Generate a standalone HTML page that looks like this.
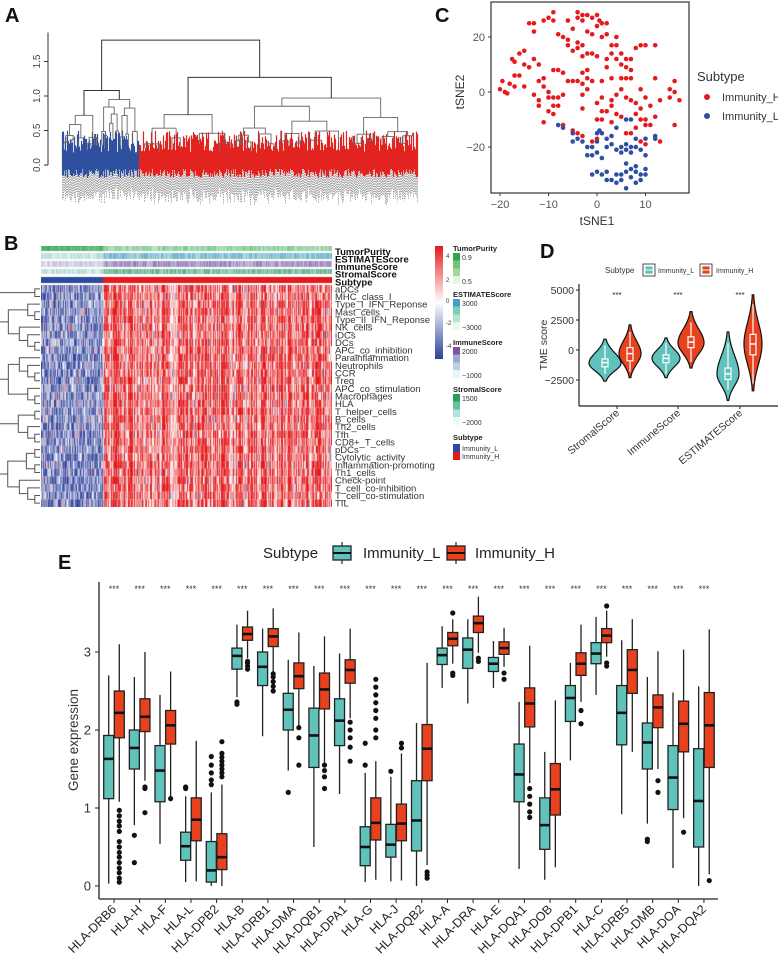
<!DOCTYPE html>
<html><head><meta charset="utf-8">
<style>
html,body{margin:0;padding:0;background:#fff;}
#wrap{position:relative;width:778px;height:966px;overflow:hidden;background:#fff;font-family:"Liberation Sans",sans-serif;}
svg{position:absolute;left:0;top:0;}
canvas{position:absolute;}
</style></head>
<body>
<div id="wrap">
<canvas id="hm" width="291" height="261" style="left:41px;top:246px"></canvas>
<svg id="fig" width="778" height="966" viewBox="0 0 778 966"></svg>
</div>
<script>
// ---------- Panel E data ----------
const genes = ["HLA-DRB6","HLA-H","HLA-F","HLA-L","HLA-DPB2","HLA-B","HLA-DRB1","HLA-DMA","HLA-DQB1","HLA-DPA1","HLA-G","HLA-J","HLA-DQB2","HLA-A","HLA-DRA","HLA-E","HLA-DQA1","HLA-DOB","HLA-DPB1","HLA-C","HLA-DRB5","HLA-DMB","HLA-DOA","HLA-DQA2"];
const lLo  = [0.03,0.78,0.54,0.05,0,2.42,1.92,1.48,0.5,1.18,0.05,0.06,0,2.54,2.34,2.54,0.22,0.08,1.61,2.45,0.92,0.8,0.23,0];
const lQ1  = [1.12,1.5,1.08,0.33,0.05,2.78,2.57,2.0,1.52,1.8,0.26,0.37,0.45,2.84,2.79,2.75,1.08,0.47,2.11,2.85,1.81,1.5,0.98,0.5];
const lMed = [1.63,1.77,1.48,0.51,0.2,2.95,2.81,2.26,1.93,2.12,0.5,0.53,0.84,2.96,3.03,2.85,1.43,0.78,2.41,2.98,2.22,1.84,1.39,1.09];
const lQ3  = [1.93,2.0,1.8,0.69,0.57,3.05,3.0,2.47,2.28,2.4,0.76,0.79,1.35,3.05,3.18,2.93,1.82,1.13,2.57,3.12,2.57,2.09,1.8,1.76];
const lHi  = [2.7,2.68,2.45,1.15,1.2,3.35,3.3,2.9,2.82,2.98,1.45,1.4,2.09,3.33,3.42,3.14,2.36,1.72,2.86,3.45,3.15,2.68,2.48,2.56];
const hLo  = [1.08,1.35,1.12,0.06,0,2.92,2.75,2.05,1.58,2.15,0.08,0.07,0.27,2.85,2.99,2.81,1.32,0.24,2.36,2.94,1.72,1.5,0.87,0.15];
const hQ1  = [1.9,1.98,1.82,0.58,0.21,3.15,3.07,2.53,2.27,2.6,0.59,0.58,1.35,3.08,3.25,2.97,2.04,0.91,2.7,3.12,2.47,2.03,1.72,1.52];
const hMed = [2.22,2.17,2.06,0.85,0.37,3.23,3.2,2.69,2.52,2.77,0.81,0.8,1.76,3.17,3.37,3.05,2.34,1.24,2.85,3.21,2.77,2.29,2.08,2.06];
const hQ3  = [2.5,2.4,2.25,1.13,0.67,3.32,3.3,2.86,2.73,2.9,1.13,1.05,2.07,3.25,3.46,3.13,2.54,1.57,2.99,3.3,3.03,2.45,2.37,2.48];
const hHi  = [3.1,3.0,2.75,1.86,1.3,3.53,3.56,3.25,3.2,3.3,1.6,1.7,2.86,3.42,3.71,3.31,3.08,2.38,3.35,3.53,3.42,3.01,3.03,3.29];
const lOut = [[],[0.65,0.3],[],[1.27,1.25],[1.3,1.36,1.45,1.55,1.66],[2.33,2.36],[],[1.2],[],[],[1.83,1.55],[1.47],[],[],[],[],[],[],[],[],[],[0.6,0.57],[],[]];
const hOut = [[0.97,0.9,0.83,0.77,0.7,0.57,0.5,0.43,0.37,0.3,0.23,0.17,0.1,0.05],[1.27,1.25,0.94],[1.12],[],[1.4,1.45,1.5,1.55,1.6,1.65,1.7,1.85],[2.78,2.82,2.86,2.88],[2.5,2.56,2.62,2.68,2.72],[2.03,1.9,1.55],[1.55,1.48,1.4,1.25],[2.1,2.0,1.9,1.78,1.6],[1.9,2.0,2.15,2.25,2.35,2.45,2.55,2.65],[1.77,1.83],[0.18,0.14,0.1],[2.73,2.7,3.5],[2.92,2.88],[2.73,2.65],[1.25,1.15,1.05,0.95,0.88],[],[2.25,2.08],[2.86,2.82,3.59],[],[1.35,1.2],[0.69],[0.07]];
const eTicks = [0,1,2,3];

// ---------- Panel D data ----------
const dGroups = ["StromalScore","ImmuneScore","ESTIMATEScore"];
const dLMin = [-2600,-2300,-4200], dLMax = [900,1000,1500], dLMode = [-1100,-700,-2000];
const dLQ1 = [-1400,-1050,-2450], dLMed = [-1050,-700,-2000], dLQ3 = [-750,-400,-1500], dLLo = [-2000,-2000,-3300], dLHi = [400,600,600];
const dHMin = [-2300,-1500,-3400], dHMax = [2100,3200,4600], dHMode = [-300,600,500];
const dHQ1 = [-900,200,-400], dHMed = [-300,650,500], dHQ3 = [200,1100,1300], dHLo = [-1800,-1000,-2800], dHHi = [1500,2300,3800];
const dLWidth = [16,14,11], dHWidth = [11,13,9];
const dTicks = [5000,2500,0,-2500];

// ---------- Panel C data ----------
const redPts = [[-20,1],[-19.5,4],[-19,0],[-18,3],[-18.5,-0.5],[-17,2],[-17,6],[-16,6],[-17.5,12],[-17,11],[-16,14],[-15,15],[-15,10],[-14,25],[-13,25],[-13,22],[-13,12],[-14,9],[-12,10],[-12,4],[-11,5],[-11,2],[-10,0],[-13,-1],[-12,-3],[-12,-5],[-11,-11],[-10,-2],[-9,-2],[-8,-2],[-9,-5],[-9,-8],[-10,-7],[-8,-5],[-9,8],[-8,8],[-7,7],[-11,26],[-10,27],[-9,26],[-9,29],[-8,21],[-7,20],[-6,19],[-6,17],[-5,15],[-5,23],[-4,27],[-4,29],[-3,28],[-3,26],[-2,28],[-1,27],[-1,21],[0,28],[0,24],[0.5,26],[1,25],[1,20],[2,21],[2,25],[3,17],[4,20],[4,17],[-4,16],[-4,18],[-3,17],[-2,14],[-1,14],[0,13],[-3,13],[-3,7],[-2,8],[-3,3],[-2,5],[-2,1],[-3,-1],[-4,4],[-5,4],[-3,-6],[-1,4],[1,4],[2,9],[3,14],[4,12],[5,14],[5,10],[6,12],[6,9],[7,8],[7,5],[8,16],[9,17],[10,17],[12,17],[6,5],[5,5],[5,1],[4,-1],[3,-3],[3,-5],[4,-8],[2,-7],[1,-7],[0,-4],[0,-10],[1,-10],[3,-11],[5,-9],[6,-2],[7,-3],[8,-4],[9,-6],[8,-8],[9,-10],[10,-10],[10,-12],[11,-12],[10,-2],[11,-5],[12,-9],[12,5],[13,-3],[15,1],[15,-2],[16,0],[16,4],[16,-12],[17,-3],[-7,-12],[-5,-14],[-4,-15],[-3,-16],[-1,-18],[0,-17],[6,-15],[7,-15],[13,-18],[10,-19],[8,-13],[9,-18],[-6,26],[-2,22],[2,12],[7,12],[-15,2],[-7,-1],[1,-2],[9,1],[-6,4],[3,5]];
const bluePts = [[-8,-12],[-7,-13],[-5,-15],[-5,-18],[-4,-17],[-3,-18],[-2,-20],[-1,-20],[0,-15],[0,-18],[0.5,-14],[1,-15],[2,-17],[2,-20],[3,-19],[3,-16],[4,-13],[4,-21],[5,-20],[5,-22],[6,-19],[6,-21],[7,-20],[7,-22],[8,-20],[8,-17],[9,-21],[10,-17],[10,-23],[12,-17],[12,-16],[6,-10],[7,-10],[-2,-23],[-1,-23],[0,-22],[1,-24],[-1,-30],[0,-29],[1,-30],[2,-29],[2,-32],[3,-32],[4,-30],[5,-30],[5,-32],[6,-26],[6,-29],[7,-28],[7,-31],[8,-29],[8,-27],[9,-32],[10,-30],[10,-28],[9,-30],[6,-35],[4,-33],[8,-33]];
const cXTicks = [-20,-10,0,10], cYTicks = [20,0,-20];

// ---------- Panel A data ----------
const aTicks = [0,0.5,1.0,1.5];
const aRootH = 1.81, aBlueH = 1.08, aRedH = 1.27;
const aSubH = [0.72,0.95,0.73,0.97];

// ---------- Panel B data ----------
const rowNames = ["aDCs","MHC_class_I","Type_I_IFN_Reponse","Mast_cells","Type_II_IFN_Reponse","NK_cells","iDCs","DCs","APC_co_inhibition","Parainflammation","Neutrophils","CCR","Treg","APC_co_stimulation","Macrophages","HLA","T_helper_cells","B_cells","Th2_cells","Tfh","CD8+_T_cells","pDCs","Cytolytic_activity","Inflammation-promoting","Th1_cells","Check-point","T_cell_co-inhibition","T_cell_co-stimulation","TIL"];
const annoNames = ["TumorPurity","ESTIMATEScore","ImmuneScore","StromalScore","Subtype"];

const NS="http://www.w3.org/2000/svg";
const svg=document.getElementById('fig');
function el(tag,attrs,parent){const e=document.createElementNS(NS,tag);for(const k in attrs)e.setAttribute(k,attrs[k]);(parent||svg).appendChild(e);return e;}
function txt(s,attrs,parent){const e=el('text',attrs,parent);e.textContent=s;return e;}
function rnd(i){const v=Math.sin(i*12.9898+78.233)*43758.5453;return v-Math.floor(v);}
const CY='#5fc2bb', RD='#e8411d';

// Panel labels
[["A",5,22],["B",4,250],["C",435,22],["D",540,258],["E",58,569]].forEach(p=>{
  const t=txt(p[0],{x:p[1],y:p[2],'font-size':20,'font-weight':'bold',fill:'#111'});
  
  
});

// ================= Panel A =================
(function(){
  const g=el('g',{});
  
  
  const yA=h=>165-h*69;
  el('line',{x1:48,y1:yA(0),x2:48,y2:yA(1.5)-29,stroke:'#333','stroke-width':1},g);
  aTicks.forEach(t=>{
    el('line',{x1:44,y1:yA(t),x2:48,y2:yA(t),stroke:'#333'},g);
    const tx=txt(t.toFixed(1),{x:40,y:yA(t),'font-size':10,fill:'#444','text-anchor':'middle',transform:`rotate(-90 40 ${yA(t)})`},g);
    
    
  });
  // texture: colored band + gray leaf labels
  let band='',bandB='',labels='';
  const leafTop=[];
  for(let x=62;x<=417;x++){
    const top=yA(0.18+rnd(x)*0.32), bot=165+4+rnd(x+500)*9;
    leafTop[x]=top;
    const seg=`M${x+0.5} ${top}V${bot}`;
    if(x<139) bandB+=seg; else band+=seg;
    labels+=`M${x+0.5} ${bot+1}V${bot+18+rnd(x+900)*10}`;
  }
  el('path',{d:labels,stroke:'#aaa','stroke-width':1,'stroke-dasharray':'1.5 1',fill:'none'},g);
  el('path',{d:bandB,stroke:'#2f4f9f','stroke-width':1.2,fill:'none'},g);
  el('path',{d:band,stroke:'#e2231f','stroke-width':1.2,fill:'none'},g);
  let lines='';
  let sd=1;
  function sub(x0,x1,h){
    sd++;
    if(h<0.3||x1-x0<4){return (x0+x1)/2;}
    const m=x0+(x1-x0)*(0.35+0.3*rnd(sd*7));
    const h1=h*(0.55+0.35*rnd(sd*3)), h2=h*(0.55+0.35*rnd(sd*5));
    const c1=sub(x0,m,h1), c2=sub(m,x1,h2);
    const t1=h1<0.3||m-x0<4?leafTop[Math.round(c1)]||yA(0.3):yA(h1);
    const t2=h2<0.3||x1-m<4?leafTop[Math.round(c2)]||yA(0.3):yA(h2);
    lines+=`M${c1} ${t1}V${yA(h)}H${c2}V${t2}`;
    return (c1+c2)/2;
  }
  let top='';
  function node(c1,h1,c2,h2,h){top+=`M${c1} ${yA(h1)}V${yA(h)}H${c2}V${yA(h2)}`;return (c1+c2)/2;}
  const b1=sub(62,100,aSubH[0]), b2=sub(100,139,aSubH[1]);
  const r1=sub(139,235,aSubH[2]), r2=sub(235,417,aSubH[3]);
  const bc=node(b1,aSubH[0],b2,aSubH[1],aBlueH);
  const rc=node(r1,aSubH[2],r2,aSubH[3],aRedH);
  node(bc,aBlueH,rc,aRedH,aRootH);
  el('path',{d:lines,stroke:'#666','stroke-width':0.9,fill:'none'},g);
  el('path',{d:top,stroke:'#333','stroke-width':1,fill:'none'},g);
})();

// ================= Panel C =================
(function(){
  const g=el('g',{});
  
  
  const xC=v=>597+v*4.85, yC=v=>92-v*2.75;
  el('rect',{x:491,y:2,width:198,height:191,fill:'none',stroke:'#333','stroke-width':1.2},g);
  cXTicks.forEach(t=>{el('line',{x1:xC(t),x2:xC(t),y1:193,y2:196,stroke:'#333'},g);
    const a=txt(String(t).replace('-','\u2212'),{x:xC(t),y:208,'font-size':11,fill:'#555','text-anchor':'middle'},g);
    });
  cYTicks.forEach(t=>{el('line',{x1:488,x2:491,y1:yC(t),y2:yC(t),stroke:'#333'},g);
    const a=txt(String(t).replace('-','\u2212'),{x:485,y:yC(t)+4,'font-size':11,fill:'#555','text-anchor':'end'},g);
    });
  const t1=txt('tSNE1',{x:597,y:225,'font-size':12,fill:'#333','text-anchor':'middle'},g);
  
  const t2=txt('tSNE2',{x:464,y:92,'font-size':12,fill:'#333','text-anchor':'middle',transform:'rotate(-90 464 92)'},g);
  
  redPts.forEach(p=>{const c=el('circle',{cx:xC(p[0]),cy:yC(p[1]),r:2.3,fill:'#e41a1c'},g);
    });
  bluePts.forEach(p=>{const c=el('circle',{cx:xC(p[0]),cy:yC(p[1]),r:2.3,fill:'#2d4ea3'},g);
    });
  const lg=el('g',{},g);
  
  txt('Subtype',{x:697,y:81,'font-size':13,fill:'#333'},lg);
  el('circle',{cx:707,cy:97,r:3,fill:'#e41a1c'},lg);
  txt('Immunity_H',{x:722,y:101,'font-size':11,fill:'#333'},lg);
  el('circle',{cx:707,cy:116,r:3,fill:'#2d4ea3'},lg);
  txt('Immunity_L',{x:722,y:120,'font-size':11,fill:'#333'},lg);
})();

// ================= Panel B =================
(function(){
  const cv=document.getElementById('hm');const ctx=cv.getContext('2d');
  const W=291;const blueEnd=62;
  function hmCol(v){const t=Math.max(-1,Math.min(1,v/4));
    if(t<0){const a=-t;return [255-(255-44)*a,255-(255-63)*a,255-(255-153)*a];}
    return [255-(255-228)*t,255-(255-26)*t,255-(255-28)*t];}
  function mix(c1,c2,t){return c1.map((v,i)=>Math.round(v+(c2[i]-v)*t));}
  const anno=[[0,5,[229,245,224],[49,163,84]],[7,13,[237,248,233],[63,159,198]],[15,21,[234,244,246],[123,82,166]],[23,28,[237,248,251],[46,154,94]]];
  for(let x=0;x<W;x++){
    const left=x<blueEnd;
    // annotations
    anno.forEach((a,k)=>{
      let t;
      if(k===0) t=left?0.6+rnd(x*3+k)*0.35:0.15+rnd(x*3+k)*0.45;
      else t=left?0.05+rnd(x*5+k)*0.3:0.3+rnd(x*5+k)*0.5;
      const c=mix(a[2],a[3],t);ctx.fillStyle=`rgb(${c})`;ctx.fillRect(x,a[0],1,a[1]-a[0]);
    });
    ctx.fillStyle=left?'#2c4a9e':'#e41a1c';ctx.fillRect(x,31,1,6);
    const colv=rnd(x*11+3);
    for(let r=0;r<29;r++){
      let v;const n=rnd(x*37+r*101);
      if(left) v=-4+n*3.2+(rnd(x+r*7)>0.93?3:0);
      else v=-0.6+colv*3.6+n*2.6-(rnd(x*13+r)>0.9?2.5:0);
      const c=hmCol(v);ctx.fillStyle=`rgb(${c.map(Math.round)})`;
      ctx.fillRect(x,39+r*7.655,1,7.8);
    }
  }
  const g=el('g',{});
  
  const annoY=[252,259.5,267,274.5,282.5];
  annoNames.forEach((n,i)=>{const t=txt(n,{x:335,y:annoY[i]+3,'font-size':9.5,'font-weight':'bold',fill:'#111'},g);
    });
  rowNames.forEach((n,i)=>{const t=txt(n,{x:335,y:285+(i+0.5)*7.655+3.5,'font-size':9.5,fill:'#333'},g);
    });
  // row dendrogram
  let d='';let s=3;
  function rt(a,b){ // rows a..b-1 ; returns [y,x]
    if(b-a===1) return [285+(a+0.5)*7.655,40];
    s++;const m=a+Math.max(1,Math.floor((b-a)*(0.3+0.4*rnd(s*9))));
    const l=rt(a,m),r=rt(m,b);
    const x=Math.min(l[1],r[1])-2-Math.log2(b-a)*3.2;
    d+=`M${l[1]} ${l[0]}H${x}V${r[0]}H${r[1]}`;
    return [(l[0]+r[0])/2,x];
  }
  rt(0,29);
  const dp=el('path',{d:d,stroke:'#555','stroke-width':1,fill:'none'},g);
  
  // colorbar
  const defs=el('defs',{});
  const lg=el('linearGradient',{id:'cb',x1:0,y1:0,x2:0,y2:1},defs);
  el('stop',{offset:'0',  'stop-color':'#e41a1c'},lg);
  el('stop',{offset:'0.5','stop-color':'#ffffff'},lg);
  el('stop',{offset:'1',  'stop-color':'#2c3f99'},lg);
  const cb=el('rect',{x:435,y:246,width:8,height:113,fill:'url(#cb)'});
  
  [["4",258],["2",282],["0",303],["-2",325],["-4",348]].forEach(p=>txt(p[0],{x:446,y:p[1],'font-size':6,fill:'#333'}));
  const leg=[["TumorPurity",248,["#31a354","#74c476","#a1d99b","#e5f5e0"],"0.9","0.5"],
             ["ESTIMATEScore",294,["#3f9fc6","#7ccdbb","#b7e3cc","#edf8e9"],"3000","\u22123000"],
             ["ImmuneScore",342,["#7b52a6","#9ea6d2","#bfd0e6","#eaf4f6"],"2000","\u22121000"],
             ["StromalScore",389,["#2e9a5e","#66c2a4","#b2e2e2","#edf8fb"],"1500","\u22122000"]];
  leg.forEach(L=>{
    const lgG=el('g',{});
    
    txt(L[0],{x:453,y:L[1]+3,'font-size':7.5,'font-weight':'bold',fill:'#222'},lgG);
    L[2].forEach((c,i)=>el('rect',{x:453,y:L[1]+5+i*7.75,width:7,height:7.8,fill:c},lgG));
    txt(L[3],{x:462,y:L[1]+12,'font-size':7,fill:'#333'},lgG);
    txt(L[4],{x:462,y:L[1]+36,'font-size':7,fill:'#333'},lgG);
  });
  const sg=el('g',{});
  
  txt('Subtype',{x:453,y:440,'font-size':7.5,'font-weight':'bold',fill:'#222'},sg);
  el('rect',{x:453,y:444,width:7,height:8,fill:'#2c4a9e'},sg);
  el('rect',{x:453,y:452,width:7,height:8,fill:'#e41a1c'},sg);
  txt('Immunity_L',{x:462,y:451,'font-size':7,fill:'#333'},sg);
  txt('Immunity_H',{x:462,y:459,'font-size':7,fill:'#333'},sg);
})();

// ================= Panel D =================
(function(){
  const g=el('g',{});
  
  const yD=v=>350-v*0.012;
  const gx=[617,678,740];
  el('line',{x1:579,y1:284,x2:579,y2:406,stroke:'#222','stroke-width':1.2},g);
  el('line',{x1:579,y1:406,x2:778,y2:406,stroke:'#222','stroke-width':1.2},g);
  dTicks.forEach(t=>{el('line',{x1:576,x2:579,y1:yD(t),y2:yD(t),stroke:'#222'},g);
    const a=txt(String(t).replace('-','\u2212'),{x:574,y:yD(t)+4,'font-size':10.5,fill:'#333','text-anchor':'end'},g);
    });
  const yt=txt('TME score',{x:547,y:345,'font-size':10.5,fill:'#333','text-anchor':'middle',transform:'rotate(-90 547 345)'},g);
  
  function violin(cx,mn,mx,mode,hw,fill,q1,med,q3,lo,hi,name){
    let R=[],L=[];
    for(let i=0;i<=60;i++){const v=mn+(mx-mn)*i/60;
      const sd=v<mode?(mode-mn)/2.3:(mx-mode)/2.3;
      const w=Math.max(0.8,hw*Math.exp(-0.5*Math.pow((v-mode)/sd,2)));
      R.push([cx+w,yD(v)]);L.push([cx-w,yD(v)]);}
    const d='M'+R.map(p=>p.join(' ')).join('L')+'L'+L.reverse().map(p=>p.join(' ')).join('L')+'Z';
    const p=el('path',{d:d,fill:fill,stroke:'#111','stroke-width':1.2},g);
    
    el('line',{x1:cx,x2:cx,y1:yD(lo),y2:yD(hi),stroke:'#fff','stroke-width':1.2},g);
    el('rect',{x:cx-3,y:yD(q3),width:6,height:yD(q1)-yD(q3),fill:fill,stroke:'#fff','stroke-width':1.2},g);
    el('line',{x1:cx-3,x2:cx+3,y1:yD(med),y2:yD(med),stroke:'#fff','stroke-width':1.5},g);
  }
  dGroups.forEach((n,i)=>{
    violin(gx[i]-12,dLMin[i],dLMax[i],dLMode[i],dLWidth[i],CY,dLQ1[i],dLMed[i],dLQ3[i],dLLo[i],dLHi[i],'violin-l-'+n.toLowerCase());
    violin(gx[i]+13,dHMin[i],dHMax[i],dHMode[i],dHWidth[i],RD,dHQ1[i],dHMed[i],dHQ3[i],dHLo[i],dHHi[i],'violin-h-'+n.toLowerCase());
    el('line',{x1:gx[i],x2:gx[i],y1:406,y2:409,stroke:'#222'},g);
    const a=txt(n,{x:gx[i]+3,y:414,'font-size':10.5,fill:'#333','text-anchor':'end',transform:`rotate(-40 ${gx[i]+3} 414)`},g);
    
    txt('***',{x:gx[i],y:298,'font-size':8,fill:'#333','text-anchor':'middle'},g);
  });
  const lg=el('g',{},g);
  
  txt('Subtype',{x:605,y:273,'font-size':8,fill:'#333'},lg);
  [[643,CY,'Immunity_L',658],[700,RD,'Immunity_H',716]].forEach(k=>{
    el('rect',{x:k[0],y:264,width:12,height:12,fill:'#fff',stroke:'#222','stroke-width':0.8},lg);
    el('rect',{x:k[0]+2,y:266,width:8,height:8,fill:k[1],stroke:'#fff','stroke-width':0.8},lg);
    el('line',{x1:k[0]+2,x2:k[0]+10,y1:270,y2:270,stroke:'#fff'},lg);
    txt(k[2],{x:k[3],y:273,'font-size':7,fill:'#333'},lg);
  });
})();

// ================= Panel E =================
(function(){
  const g=el('g',{});
  
  const yE=v=>886-v*78, xE=i=>114+i*25.65;
  el('line',{x1:99,y1:582,x2:99,y2:899,stroke:'#222','stroke-width':1.3},g);
  el('line',{x1:99,y1:899,x2:718,y2:899,stroke:'#222','stroke-width':1.3},g);
  eTicks.forEach(t=>{el('line',{x1:95,x2:99,y1:yE(t),y2:yE(t),stroke:'#222'},g);
    const a=txt(String(t),{x:91,y:yE(t)+4.5,'font-size':13,fill:'#333','text-anchor':'end'},g);
    });
  const yt=txt('Gene expression',{x:78,y:740,'font-size':13.5,fill:'#333','text-anchor':'middle',transform:'rotate(-90 78 740)'},g);
  
  function box(cx,lo,q1,med,q3,hi,outs,fill,name){
    const bg=el('g',{},g);
    
    el('line',{x1:cx,x2:cx,y1:yE(lo),y2:yE(hi),stroke:'#222','stroke-width':1.3},bg);
    el('rect',{x:cx-5,y:yE(q3),width:10,height:yE(q1)-yE(q3),fill:fill,stroke:'#222','stroke-width':1.3},bg);
    el('line',{x1:cx-5,x2:cx+5,y1:yE(med),y2:yE(med),stroke:'#111','stroke-width':2.6},bg);
    outs.forEach(o=>el('circle',{cx:cx,cy:yE(o),r:2.6,fill:'#111'},bg));
  }
  genes.forEach((n,i)=>{
    const cx=xE(i);
    box(cx-5.3,lLo[i],lQ1[i],lMed[i],lQ3[i],lHi[i],lOut[i],CY,'box-l-'+n.toLowerCase());
    box(cx+5.3,hLo[i],hQ1[i],hMed[i],hQ3[i],hHi[i],hOut[i],RD,'box-h-'+n.toLowerCase());
    el('line',{x1:cx,x2:cx,y1:899,y2:903,stroke:'#222'},g);
    const a=txt(n,{x:cx+3,y:910,'font-size':12.5,fill:'#222','text-anchor':'end',transform:`rotate(-45 ${cx+3} 910)`},g);
    
    const s=txt('***',{x:cx,y:592,'font-size':9,fill:'#333','text-anchor':'middle'},g);
    
  });
  const lg=el('g',{},g);
  
  txt('Subtype',{x:263,y:558,'font-size':15,fill:'#222'},lg);
  [[333,CY,'Immunity_L',363],[447,RD,'Immunity_H',475]].forEach(k=>{
    el('line',{x1:k[0]+9,x2:k[0]+9,y1:542,y2:564,stroke:'#222','stroke-width':1.2},lg);
    el('rect',{x:k[0],y:546,width:18,height:14,fill:k[1],stroke:'#222','stroke-width':1.3},lg);
    el('line',{x1:k[0],x2:k[0]+18,y1:553,y2:553,stroke:'#111','stroke-width':2},lg);
    txt(k[2],{x:k[3],y:558,'font-size':15,fill:'#222'},lg);
  });
})();
</script>
</body></html>
